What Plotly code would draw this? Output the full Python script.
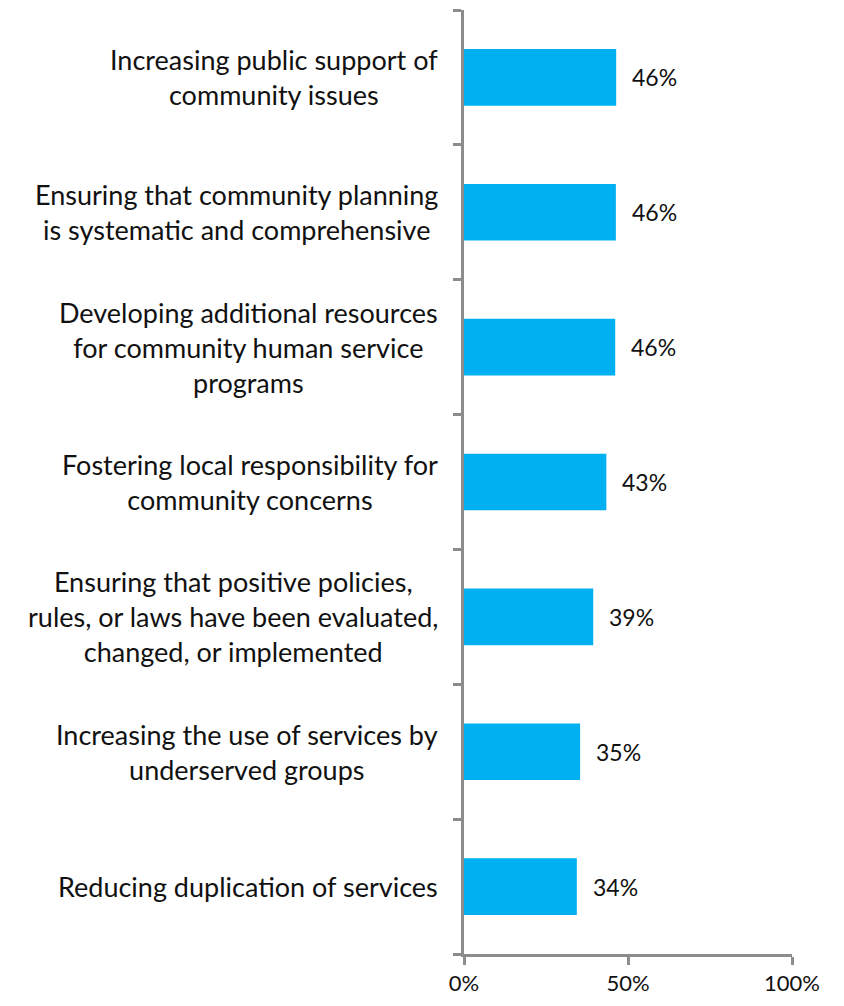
import plotly.graph_objects as go

categories = [
    "Increasing public support of<br>community issues",
    "Ensuring that community planning<br>is systematic and comprehensive",
    "Developing additional resources<br>for community human service<br>programs",
    "Fostering local responsibility for<br>community concerns",
    "Ensuring that positive policies,<br>rules, or laws have been evaluated,<br>changed, or implemented",
    "Increasing the use of services by<br>underserved groups",
    "Reducing duplication of services",
]
values = [46.4, 46.3, 46.1, 43.4, 39.4, 35.4, 34.4]
x_ticks = [0, 50, 100]
x_tick_labels = ["0%", "50%", "100%"]

FONT = "Lato, 'Open Sans', sans-serif"
AXIS_GREY = "#8c8c8c"
BAR_BLUE = "#00B0F0"

fig = go.Figure(
    go.Bar(
        x=values,
        y=categories,
        orientation="h",
        width=0.42,
        marker=dict(color=BAR_BLUE, line=dict(width=0)),
        hoverinfo="skip",
    )
)

# value labels to the right of each bar
for cat, val in zip(categories, values):
    fig.add_annotation(
        x=val, y=cat, xref="x", yref="y",
        text=f"{val:.0f}%", showarrow=False,
        xanchor="left", xshift=14,
        font=dict(family=FONT, size=23, color="#111111"),
    )

# category labels, centred line by line, left of the axis
for cat in categories:
    fig.add_annotation(
        x=0, y=cat, xref="x", yref="y",
        text=cat, showarrow=False,
        xanchor="right", xshift=-24, align="center",
        font=dict(family=FONT, size=27, color="#111111"),
    )

fig.update_layout(
    width=844, height=1006,
    margin=dict(l=464, r=52, t=10, b=48),
    paper_bgcolor="white", plot_bgcolor="white",
    showlegend=False,
    font=dict(family=FONT, size=22, color="#111111"),
)
fig.update_xaxes(
    range=[0, 100],
    tickvals=x_ticks, ticktext=x_tick_labels,
    showgrid=False, zeroline=False,
    showline=True, linecolor=AXIS_GREY, linewidth=3,
    ticks="outside", ticklen=8, tickwidth=3, tickcolor=AXIS_GREY,
    tickfont=dict(family=FONT, size=22, color="#111111"),
    fixedrange=True,
)
fig.update_yaxes(
    categoryorder="array", categoryarray=categories[::-1],
    showticklabels=False,
    showgrid=False, zeroline=False,
    showline=True, linecolor=AXIS_GREY, linewidth=3,
    ticks="outside", tickson="boundaries", ticklen=8, tickwidth=3, tickcolor=AXIS_GREY,
    fixedrange=True,
)

fig.write_html("out.html", config={"displayModeBar": False})
